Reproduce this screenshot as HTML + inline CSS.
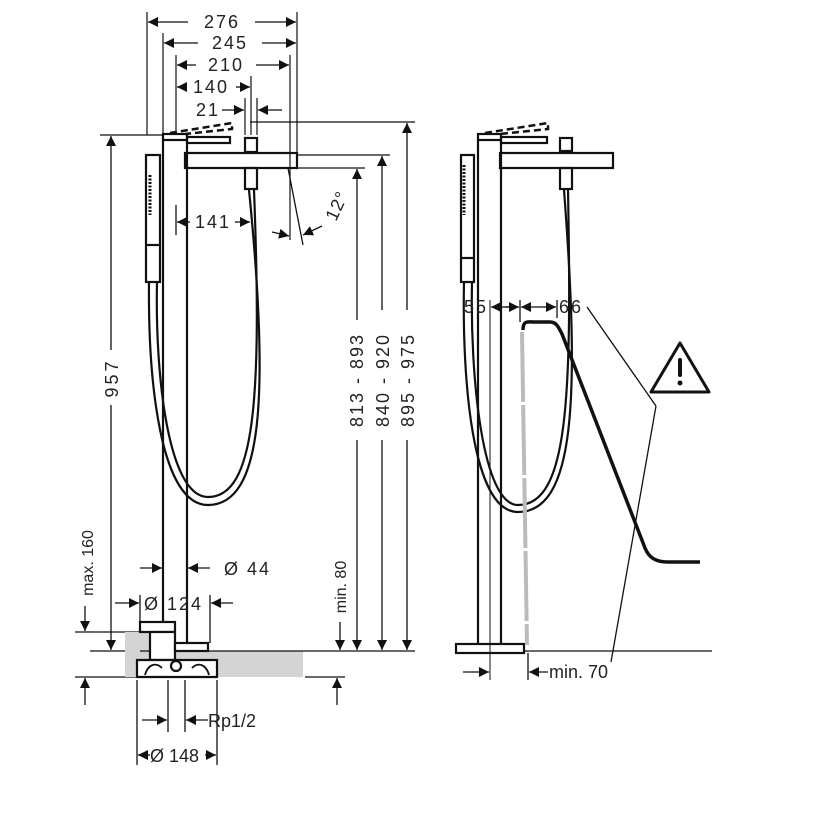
<!DOCTYPE html>
<html><head><meta charset="utf-8"><style>
html,body{margin:0;padding:0;background:#fff;}
svg{display:block;}
text{font-family:"Liberation Sans","DejaVu Sans",sans-serif;fill:#222;}
</style></head><body>
<svg width="828" height="828" viewBox="0 0 828 828" xmlns="http://www.w3.org/2000/svg">
<defs>
<marker id="a" viewBox="0 0 10 10" refX="10" refY="5" markerWidth="10" markerHeight="10" markerUnits="userSpaceOnUse" orient="auto"><path d="M0,0 L10,5 L0,10 z" fill="#111"/></marker>
</defs>
<g stroke="#111" fill="none">
<g stroke-width="1.2">
<line x1="147" y1="12" x2="147" y2="135"/>
<line x1="163" y1="33" x2="163" y2="135"/>
<line x1="176" y1="55" x2="176" y2="135"/>
<line x1="297" y1="12" x2="297" y2="155"/>
<line x1="290" y1="55" x2="290" y2="240"/>
<line x1="251" y1="76" x2="251" y2="135"/>
<line x1="245" y1="98" x2="245" y2="135"/>
<line x1="257" y1="98" x2="257" y2="135"/>
</g>
<g stroke-width="1.3">
<line x1="188" y1="22" x2="148" y2="22" marker-end="url(#a)"/><line x1="255" y1="22" x2="296" y2="22" marker-end="url(#a)"/>
<line x1="198" y1="43" x2="164" y2="43" marker-end="url(#a)"/><line x1="262" y1="43" x2="296" y2="43" marker-end="url(#a)"/>
<line x1="196" y1="65" x2="177" y2="65" marker-end="url(#a)"/><line x1="256" y1="65" x2="289" y2="65" marker-end="url(#a)"/>
<line x1="185" y1="87" x2="177" y2="87" marker-end="url(#a)"/><line x1="236" y1="87" x2="250" y2="87" marker-end="url(#a)"/>
<line x1="222" y1="110" x2="244" y2="110" marker-end="url(#a)"/><line x1="282" y1="110" x2="258" y2="110" marker-end="url(#a)"/>
</g>
<g stroke-width="1.2">
<line x1="100" y1="135" x2="163" y2="135"/>
<line x1="250" y1="122" x2="415" y2="122"/>
<line x1="297" y1="155" x2="390" y2="155"/>
<line x1="297" y1="168" x2="365" y2="168"/>
</g>
<g stroke-width="2.2">
<rect x="163" y="134" width="24" height="6"/>
<line x1="163" y1="140" x2="163" y2="622"/>
<line x1="187" y1="140" x2="187" y2="643"/>
<rect x="187" y="137" width="43" height="6"/>
<rect x="185" y="153" width="112" height="15"/>
<rect x="245" y="138" width="12" height="14"/>
<rect x="245" y="168" width="12" height="21"/>
<rect x="146" y="155" width="14" height="127"/>
<line x1="146" y1="245" x2="160" y2="245"/>
</g>
<path d="M170,133 L232,123 L232,129 L185,134" stroke-width="2.5" stroke-dasharray="7,4"/>
<line x1="150" y1="175" x2="150" y2="215" stroke-width="3" stroke-dasharray="2,1.5"/>
<g stroke-width="2.2">
<path d="M149,282 C148,380 160,505 208,505 C262,505 270,400 249,190"/>
<path d="M157,282 C155,375 168,497 208,497 C255,497 262,400 254,190"/>
</g>
<g stroke-width="1.3">
<line x1="176" y1="205" x2="176" y2="235"/>
<line x1="190" y1="222" x2="177" y2="222" marker-end="url(#a)"/><line x1="235" y1="222" x2="250" y2="222" marker-end="url(#a)"/>
<line x1="288" y1="168" x2="303" y2="245"/>
<line x1="272" y1="232" x2="289" y2="236" marker-end="url(#a)"/>
<line x1="322" y1="226" x2="303" y2="235" marker-end="url(#a)"/>
</g>
<g stroke-width="1.3">
<line x1="111" y1="350" x2="111" y2="136" marker-end="url(#a)"/><line x1="111" y1="405" x2="111" y2="650" marker-end="url(#a)"/>
<line x1="85" y1="606" x2="85" y2="631" marker-end="url(#a)"/>
<line x1="85" y1="705" x2="85" y2="678" marker-end="url(#a)"/>
<line x1="75" y1="632" x2="145" y2="632"/>
<line x1="90" y1="651" x2="140" y2="651"/>
<line x1="75" y1="677" x2="137" y2="677"/>
<line x1="305" y1="677" x2="345" y2="677"/>
<line x1="337" y1="705" x2="337" y2="678" marker-end="url(#a)"/>
<line x1="340" y1="622" x2="340" y2="650" marker-end="url(#a)"/>
<line x1="357" y1="320" x2="357" y2="169" marker-end="url(#a)"/><line x1="357" y1="440" x2="357" y2="650" marker-end="url(#a)"/>
<line x1="382" y1="310" x2="382" y2="156" marker-end="url(#a)"/><line x1="382" y1="440" x2="382" y2="650" marker-end="url(#a)"/>
<line x1="407" y1="310" x2="407" y2="123" marker-end="url(#a)"/><line x1="407" y1="440" x2="407" y2="650" marker-end="url(#a)"/>
</g>
<rect x="125" y="632" width="25" height="19" fill="#d4d4d4" stroke="none"/>
<rect x="125" y="651" width="178" height="26" fill="#d4d4d4" stroke="none"/>
<line x1="140" y1="651" x2="415" y2="651" stroke-width="1.3"/>
<g stroke-width="2.2" fill="#fff">
<rect x="140" y="622" width="35" height="10"/>
<rect x="150" y="632" width="25" height="28"/>
<rect x="175" y="643" width="33" height="8"/>
<path d="M137,660 L217,660 L217,677 L137,677 Z"/>
<circle cx="176" cy="666" r="5"/>
</g>
<path d="M145,675 C148,664 156,662 162,668 M192,668 C198,662 206,664 209,675" stroke-width="1.8"/>
<g stroke-width="1.3">
<line x1="140" y1="568" x2="162" y2="568" marker-end="url(#a)"/><line x1="210" y1="568" x2="188" y2="568" marker-end="url(#a)"/>
<line x1="115" y1="603" x2="139" y2="603" marker-end="url(#a)"/><line x1="233" y1="603" x2="211" y2="603" marker-end="url(#a)"/>
<line x1="140" y1="595" x2="140" y2="622"/><line x1="210" y1="595" x2="210" y2="643"/>
<line x1="168" y1="680" x2="168" y2="732"/><line x1="185" y1="680" x2="185" y2="732"/>
<line x1="137" y1="680" x2="137" y2="765"/><line x1="217" y1="680" x2="217" y2="765"/>
<line x1="142" y1="720" x2="167" y2="720" marker-end="url(#a)"/><line x1="208" y1="720" x2="186" y2="720" marker-end="url(#a)"/>
<line x1="150" y1="755" x2="138" y2="755" marker-end="url(#a)"/><line x1="205" y1="755" x2="216" y2="755" marker-end="url(#a)"/>
</g>

<g stroke-width="2.2">
<rect x="478" y="134" width="23" height="6"/>
<line x1="478" y1="140" x2="478" y2="644"/>
<line x1="501" y1="140" x2="501" y2="644"/>
<rect x="501" y="137" width="46" height="6"/>
<rect x="500" y="153" width="113" height="15"/>
<rect x="560" y="138" width="12" height="13"/>
<rect x="560" y="168" width="12" height="21"/>
<rect x="461" y="155" width="13" height="127"/>
<line x1="461" y1="258" x2="474" y2="258"/>
<rect x="456" y="644" width="68" height="9"/>
</g>
<path d="M485,133 L548,123 L548,129 L500,134" stroke-width="2.5" stroke-dasharray="7,4"/>
<line x1="464" y1="165" x2="464" y2="215" stroke-width="3" stroke-dasharray="2,1.5"/>
<line x1="490" y1="300" x2="490" y2="680" stroke-width="1"/>
<g stroke-width="2.2">
<path d="M464,282 C462,380 472,512 518,512 C575,512 580,400 564,190"/>
<path d="M472,282 C470,375 482,505 518,505 C568,505 572,400 568,190"/>
</g>
<path d="M522,332 L527,645" stroke="#bbb" stroke-width="4" stroke-dasharray="70,3"/>
<path d="M523,330 C523,320 528,322 534,322 L550,322 C556,322 558,326 562,334 L645,548 C649,558 656,562 668,562 L700,562" stroke-width="3.5"/>
<g stroke-width="1.3">
<line x1="520" y1="300" x2="520" y2="322"/>
<line x1="557" y1="300" x2="557" y2="318"/>
<line x1="510" y1="307" x2="491" y2="307" marker-end="url(#a)"/>
<line x1="505" y1="307" x2="519" y2="307" marker-end="url(#a)"/>
<line x1="540" y1="307" x2="521" y2="307" marker-end="url(#a)"/>
<line x1="540" y1="307" x2="556" y2="307" marker-end="url(#a)"/>
<line x1="587" y1="307" x2="656" y2="406"/>
<line x1="656" y1="406" x2="611" y2="662"/>
<line x1="524" y1="651" x2="712" y2="651"/>
<line x1="528" y1="653" x2="528" y2="680"/>
<line x1="463" y1="672" x2="489" y2="672" marker-end="url(#a)"/>
<line x1="548" y1="672" x2="529" y2="672" marker-end="url(#a)"/>
</g>
<path d="M680,343 L709,392 L651,392 Z" stroke-width="3" stroke-linejoin="round"/>
<line x1="680" y1="360" x2="680" y2="375" stroke-width="4" stroke-linecap="round"/>
<circle cx="680" cy="383" r="2.5" fill="#111" stroke="none"/>
</g>
<g font-size="18">
<text x="222" y="28" text-anchor="middle" letter-spacing="2">276</text>
<text x="230" y="49" text-anchor="middle" letter-spacing="2">245</text>
<text x="226" y="71" text-anchor="middle" letter-spacing="2">210</text>
<text x="211" y="93" text-anchor="middle" letter-spacing="2">140</text>
<text x="208" y="116" text-anchor="middle" letter-spacing="2">21</text>
<text x="213" y="228" text-anchor="middle" letter-spacing="2">141</text>
<text transform="translate(336,222) rotate(-65)" letter-spacing="1">12°</text>
<text transform="translate(118,378) rotate(-90)" text-anchor="middle" letter-spacing="3">957</text>
<text transform="translate(93,563) rotate(-90)" text-anchor="middle" font-size="16">max. 160</text>
<text transform="translate(346,587) rotate(-90)" text-anchor="middle" font-size="16">min. 80</text>
<text transform="translate(363,380) rotate(-90)" text-anchor="middle" letter-spacing="2">813 - 893</text>
<text transform="translate(389,380) rotate(-90)" text-anchor="middle" letter-spacing="2">840 - 920</text>
<text transform="translate(414,380) rotate(-90)" text-anchor="middle" letter-spacing="2">895 - 975</text>
<text x="224" y="575" letter-spacing="2">Ø 44</text>
<text x="144" y="610" letter-spacing="2">Ø 124</text>
<text x="208" y="727">Rp1/2</text>
<text x="150" y="762">Ø 148</text>
<text x="464" y="313" letter-spacing="2">55</text>
<text x="559" y="313" letter-spacing="2">66</text>
<text x="549" y="678">min. 70</text>
</g>
</svg>
</body></html>
